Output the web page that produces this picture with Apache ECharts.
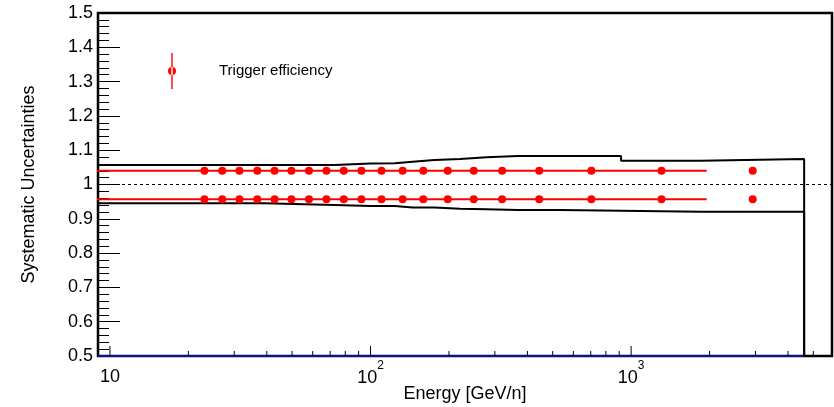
<!DOCTYPE html>
<html><head><meta charset="utf-8">
<script src="https://cdn.jsdelivr.net/npm/echarts@6/dist/echarts.min.js"></script>
<style>html,body{margin:0;padding:0;background:#fff}#c{width:834px;height:407px}</style>
</head><body><div id="c"></div>
<script>
// ---- data ----
const xRange = [9, 5900];
const yRange = [0.5, 1.5];
const binEdges = [8, 39.2, 72.9, 100, 124, 145, 176, 220.6, 279, 367, 535, 915, 1847, 4613];
const sysUpper = [1.057, 1.057, 1.0615, 1.062, 1.0666, 1.0716, 1.0745, 1.0794, 1.0832, 1.0832, 1.0832, 1.0695, 1.0745];
const sysLower = [0.945, 0.940, 0.937, 0.937, 0.933, 0.933, 0.929, 0.9275, 0.9255, 0.9255, 0.9235, 0.9206, 0.9206];
const pointEnergy = [23.05, 26.97, 31.4, 36.77, 42.83, 49.7, 58.05, 67.74, 78.95, 92.3, 110.2, 132.8, 159.4, 197.8, 249, 319.9, 444, 703.7, 1308, 2928];
const trigUpper = [1.04, 1.04, 1.04, 1.04, 1.04, 1.04, 1.04, 1.04, 1.04, 1.04, 1.04, 1.04, 1.04, 1.04, 1.04, 1.04, 1.04, 1.04, 1.04, 1.04];
const trigLower = [0.957, 0.957, 0.957, 0.957, 0.957, 0.957, 0.957, 0.957, 0.957, 0.957, 0.957, 0.957, 0.957, 0.957, 0.957, 0.957, 0.957, 0.957, 0.957, 0.957];
const trigBandRange = [8, 1950];
const trigBandUpper = 1.04;
const trigBandLower = 0.957;
const xMajorTicks = [10, 100, 1000];
const xMinorTicks = [20, 30, 40, 50, 60, 70, 80, 90, 200, 300, 400, 500, 600, 700, 800, 900, 2000, 3000, 4000, 5000];
const yTickInterval = 0.1;
const legendName = 'Trigger efficiency';
const xTitle = 'Energy [GeV/n]';
const yTitle = 'Systematic Uncertainties';

// ---- helpers ----
function stepData(edges, vals) {
  const d = [];
  for (let i = 0; i < vals.length; i++) {
    d.push([edges[i], vals[i]]);
    d.push([edges[i + 1], vals[i]]);
  }
  d.push([edges[edges.length - 1], 0]);
  return d;
}
const FONT = 'Liberation Sans';
function tickSeries(values, len) {
  return {
    type: 'custom', silent: true, z: 5,
    data: values.map(v => [v, yRange[0]]),
    encode: { x: 0, y: 1 },
    renderItem: function (params, api) {
      const p = api.coord([api.value(0), api.value(1)]);
      const cs = params.coordSys;
      const yb = cs.y + cs.height;
      return { type: 'line', shape: { x1: p[0], y1: yb, x2: p[0], y2: yb - len }, style: { stroke: '#000', lineWidth: 1 } };
    }
  };
}

const chart = echarts.init(document.getElementById('c'), null, { renderer: 'canvas' });
chart.setOption({
  animation: false,
  backgroundColor: '#fff',
  textStyle: { fontFamily: FONT },
  grid: { left: 98, right: 2, top: 13, bottom: 51, containLabel: false, outerBoundsMode: 'none', show: true, borderColor: '#000', borderWidth: 2.5, backgroundColor: 'transparent' },
  legend: {
    left: 168, top: 53, padding: 0, selectedMode: false,
    itemWidth: 8, itemHeight: 36,
    data: [{ name: legendName, icon: 'path://M3.3,0L4.7,0L4.7,36L3.3,36Z M0,18A4,4,0,1,0,8,18A4,4,0,1,0,0,18Z' }],
    textStyle: { fontSize: 15, color: '#000', fontFamily: FONT, padding: [0, 0, 0, 38] }
  },
  xAxis: {
    type: 'log', logBase: 10, min: xRange[0], max: xRange[1],
    axisLine: { show: false }, axisTick: { show: false }, splitLine: { show: false },
    axisLabel: {
      showMinLabel: false, showMaxLabel: false, margin: 4, color: '#000',
      formatter: function (v) {
        const l = Math.log10(v), p = Math.round(l);
        if (Math.abs(l - p) > 1e-6) return '';
        return p === 1 ? '{b|10}' : '{b|10}{s|' + p + '}';
      },
      rich: {
        b: { fontSize: 18, lineHeight: 26, verticalAlign: 'bottom', color: '#000', fontFamily: FONT },
        s: { fontSize: 12, lineHeight: 27, verticalAlign: 'top', color: '#000', fontFamily: FONT }
      }
    },
    name: xTitle, nameLocation: 'middle', nameGap: 29, nameMoveOverlap: false,
    nameTextStyle: { fontSize: 18, color: '#000', fontFamily: FONT }
  },
  yAxis: {
    type: 'value', min: yRange[0], max: yRange[1], interval: yTickInterval,
    axisLine: { show: false },
    axisTick: { show: true, inside: true, length: 22, lineStyle: { color: '#000', width: 1 } },
    minorTick: { show: true, splitNumber: 5, length: 11, lineStyle: { color: '#000', width: 1 } },
    splitLine: { show: false },
    axisLabel: { fontSize: 18, color: '#000', margin: 5, fontFamily: FONT },
    name: yTitle, nameLocation: 'middle', nameGap: 60, nameMoveOverlap: false,
    nameTextStyle: { fontSize: 18, color: '#000', fontFamily: FONT }
  },
  series: [
    {
      name: 'baseline', type: 'line', symbol: 'none', silent: true,
      data: [[xRange[0], yRange[0]], [binEdges[binEdges.length - 1], yRange[0]]],
      lineStyle: { color: '#1010a0', width: 2 }, z: 3
    },
    {
      name: 'sysUp', type: 'line', symbol: 'none', silent: true,
      data: stepData(binEdges, sysUpper), lineStyle: { color: '#000', width: 2 }, z: 3,
      markLine: {
        silent: true, symbol: 'none', label: { show: false },
        lineStyle: { color: '#000', width: 1, type: [3, 3] },
        data: [{ yAxis: 1 }]
      }
    },
    {
      name: 'sysDown', type: 'line', symbol: 'none', silent: true,
      data: stepData(binEdges, sysLower), lineStyle: { color: '#000', width: 2 }, z: 3
    },
    {
      name: 'bandUp', type: 'line', symbol: 'none', silent: true,
      data: trigBandRange.map(e => [e, trigBandUpper]), lineStyle: { color: '#ff0000', width: 2 }, z: 4
    },
    {
      name: 'bandDown', type: 'line', symbol: 'none', silent: true,
      data: trigBandRange.map(e => [e, trigBandLower]), lineStyle: { color: '#ff0000', width: 2 }, z: 4
    },
    {
      name: legendName, type: 'scatter', symbol: 'circle', symbolSize: 8,
      itemStyle: { color: '#ff0000', opacity: 1 }, z: 6,
      data: pointEnergy.map((e, i) => [e, trigUpper[i]])
    },
    {
      name: legendName, type: 'scatter', symbol: 'circle', symbolSize: 8,
      itemStyle: { color: '#ff0000', opacity: 1 }, z: 6,
      data: pointEnergy.map((e, i) => [e, trigLower[i]])
    },
    tickSeries(xMajorTicks, 10),
    tickSeries(xMinorTicks, 5)
  ]
});
</script>
</body></html>
